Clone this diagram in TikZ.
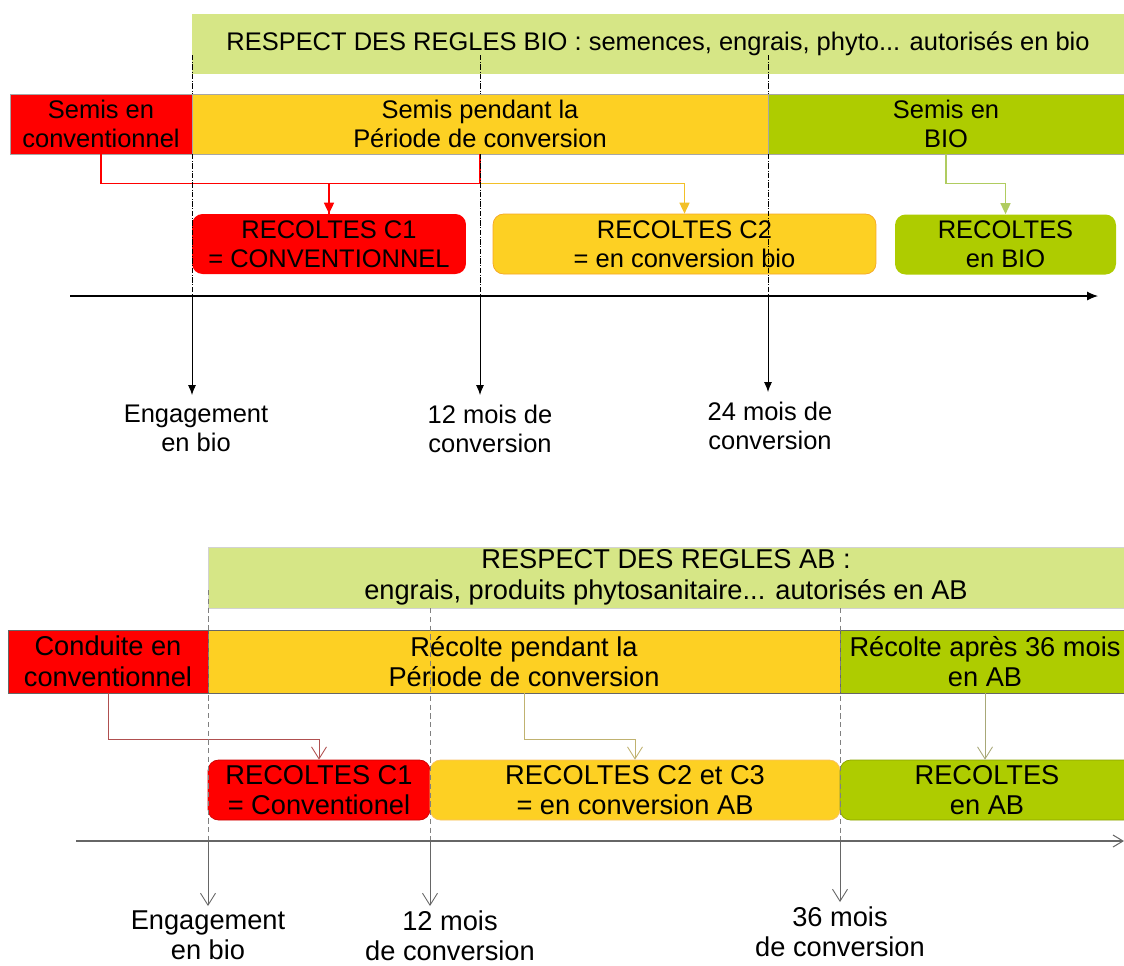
\documentclass[tikz,border=0pt]{standalone}
\usepackage{fontspec}
\setmainfont{Liberation Sans}
\usetikzlibrary{arrows.meta,positioning}

\definecolor{bandgreen}{RGB}{214,230,134}
\definecolor{convred}{RGB}{255,0,0}
\definecolor{convyellow}{RGB}{253,208,35}
\definecolor{biogreen}{RGB}{174,204,0}
\definecolor{c2border}{RGB}{245,166,35}
\definecolor{yellowlink}{RGB}{242,192,40}
\definecolor{greenlink}{RGB}{176,204,96}
\definecolor{abred}{RGB}{176,80,80}
\definecolor{abyellow}{RGB}{192,178,112}
\definecolor{abgreen}{RGB}{168,168,120}

\tikzset{
  band/.style={fill=bandgreen, minimum height=1.2cm, inner sep=0pt, align=center},
  period/.style={draw=gray!70, line width=0.4pt, minimum height=1.2cm, inner sep=0pt, align=center},
  harvest/.style={rounded corners=6pt, minimum height=1.2cm, inner sep=0pt, align=center},
  guide/.style={densely dashdotted, line width=0.4pt},
  tick/.style={-{Latex[length=2mm,width=1.6mm]}, line width=0.5pt, shorten >=0.2cm},
  link/.style={line width=0.9pt},
  lbl/.style={anchor=north, inner sep=0pt, align=center},
  barb/.style={-{Straight Barb[length=2.4mm,width=3mm]}, line width=0.5pt},
}

\begin{document}
\begin{tikzpicture}[x=0.02cm, y=-0.02cm, font=\fontsize{14.5}{16.5}\selectfont]
\useasboundingbox (0,0) rectangle (1124,965);

% conversion en 24 mois
\node[band, minimum width=18.64cm] (reglesbio) at (658,44) {RESPECT DES REGLES BIO : semences, engrais, phyto... autorisés en bio};
\node[period, fill=convred, minimum width=3.64cm] (semisconv) at (101,124) {Semis en\\conventionnel};
\node[period, fill=convyellow, minimum width=11.52cm] (semisconversion) at (480,124) {Semis pendant la\\Période de conversion};
\node[period, fill=biogreen, minimum width=7.12cm] (semisbio) at (946,124) {Semis en\\BIO};

\node[harvest, fill=convred, minimum width=5.48cm] (recc1) at (329,244) {RECOLTES C1\\= CONVENTIONNEL};
\node[harvest, fill=convyellow, draw=c2border, minimum width=7.66cm] (recc2) at (684.5,244) {RECOLTES C2\\= en conversion bio};
\node[harvest, fill=biogreen, minimum width=4.42cm] (recbio) at (1005.5,244.5) {RECOLTES\\en BIO};

\draw[link, convred] (semisconversion.south) -- ++(0,29) -| (recc1.north);
\draw[link, convred, -{Triangle[length=2.2mm,width=2mm]}] (semisconv.south) -- ++(0,29) -| (recc1.north);
\draw[link, yellowlink, -{Triangle[length=2.2mm,width=2mm]}] (semisconversion.south) ++(0,29) -| (recc2.north);
\draw[link, greenlink, -{Triangle[length=2.2mm,width=2mm]}] (semisbio.south) -- ++(0,29) -| (recbio.north);

\foreach \gx in {192,480,768} {
  \draw[guide] (\gx,55) -- (\gx,94);
  \draw[guide] (\gx,154) -- (\gx,296);
}

\coordinate (axstart) at (70,296);
\coordinate (axend) at (1098,296);
\draw[-{Latex[length=2.2mm,width=1.8mm]}, line width=0.6pt] (axstart) -- (axend);

\coordinate (t0) at (192,296);
\coordinate (t12) at (480,296);
\coordinate (t24) at (768,296);
\node[lbl] (engage) at (196,405) {Engagement\\en bio};
\node[lbl] (mois12) at (490,405) {12 mois de\\conversion};
\node[lbl] (mois24) at (770,402) {24 mois de\\conversion};
\draw[tick] (t0) -- (t0 |- engage.north);
\draw[tick] (t12) -- (t12 |- mois12.north);
\draw[tick] (t24) -- (t24 |- mois24.north);

% conversion en 36 mois
\begin{scope}[font=\fontsize{15.5}{17.5}\selectfont]
\node[band, draw=gray!35, minimum width=18.32cm, minimum height=1.22cm] (reglesab) at (666,577.5) {RESPECT DES REGLES AB :\\engrais, produits phytosanitaire... autorisés en AB};
\node[period, draw=gray!80!black, fill=convred, minimum width=4cm, minimum height=1.26cm] (conduite) at (108,661.5) {Conduite en\\conventionnel};
\node[period, draw=gray!80!black, fill=convyellow, minimum width=12.64cm, minimum height=1.26cm] (recperiod) at (524,661.5) {Récolte pendant la\\Période de conversion};
\node[period, draw=gray!80!black, fill=biogreen, minimum width=5.78cm, minimum height=1.26cm] (recapres) at (985,661.5) {Récolte après 36 mois\\en AB};

\node[harvest, fill=convred, draw=convred!80!black, minimum width=4.44cm] (recab1) at (319,790) {RECOLTES C1\\= Conventionel};
\node[harvest, fill=convyellow, draw=c2border!70, minimum width=8.2cm] (recab2) at (635,790) {RECOLTES C2 et C3\\= en conversion AB};
\node[harvest, fill=biogreen, draw=biogreen!80!black, minimum width=5.88cm] (recab3) at (987,790) {RECOLTES\\en AB};

\draw[barb, abred] (conduite.south) -- ++(0,46) -| (recab1.north);
\draw[barb, abyellow] (recperiod.south) -- ++(0,46) -| (recab2.north);
\draw[barb, abgreen] (recapres.south) -- (recapres.south |- recab3.north);

\draw[guide, densely dashed, gray] (208,590) -- (208,841);
\foreach \gx in {430,840}
  \draw[guide, densely dashed, gray] (\gx,608) -- (\gx,841);

\coordinate (abstart) at (76,841);
\coordinate (abend) at (1124,841);
\draw[gray!80!black, line width=0.6pt, -{Straight Barb[length=2mm,width=2.4mm]}] (abstart) -- (abend);

\coordinate (b0) at (208,841);
\coordinate (b12) at (430,841);
\coordinate (b36) at (840,841);
\node[lbl] (engageab) at (208,910) {Engagement\\en bio};
\node[lbl] (mois12ab) at (450,910) {12 mois\\de conversion};
\node[lbl] (mois36ab) at (840,906) {36 mois\\de conversion};
\draw[barb, gray!80!black, shorten >=0.08cm] (b0) -- (b0 |- engageab.north);
\draw[barb, gray!80!black, shorten >=0.08cm] (b12) -- (b12 |- mois12ab.north);
\draw[barb, gray!80!black, shorten >=0.08cm] (b36) -- (b36 |- mois36ab.north);
\end{scope}
\end{tikzpicture}
\end{document}
